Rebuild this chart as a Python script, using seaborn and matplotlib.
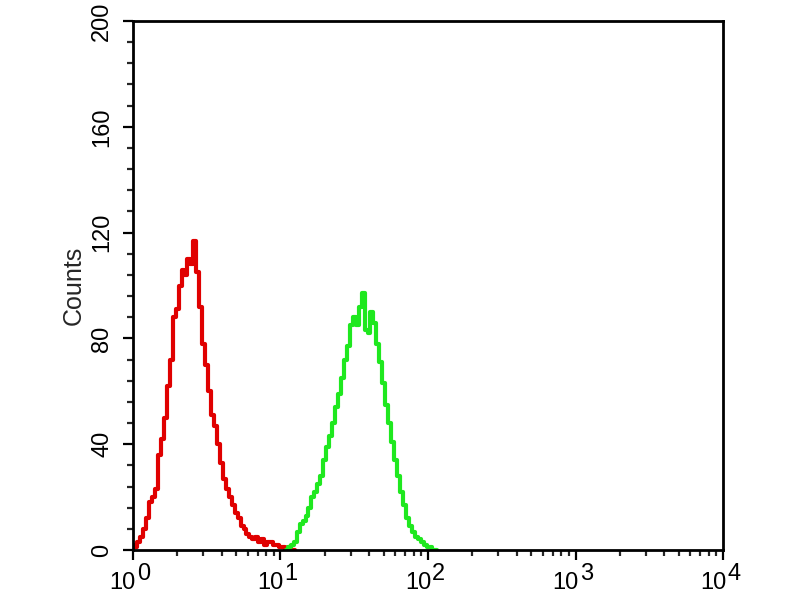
import numpy as np
import pandas as pd
import matplotlib
matplotlib.use("Agg")
import matplotlib.pyplot as plt
from matplotlib.ticker import MultipleLocator, LogLocator, NullFormatter, FixedLocator
from matplotlib.transforms import ScaledTranslation
import seaborn as sns

# ---- data ----
# positions in decades (log10 of intensity)
red_log = [0.00, 0.02, 0.04, 0.06, 0.08, 0.10, 0.12, 0.14, 0.16, 0.18,
           0.20, 0.22, 0.24, 0.26, 0.28, 0.30, 0.32, 0.34, 0.36, 0.38,
           0.40, 0.42, 0.44, 0.46, 0.48, 0.50, 0.52, 0.54, 0.56, 0.58,
           0.60, 0.62, 0.64, 0.66, 0.68, 0.70, 0.72, 0.74, 0.76, 0.78,
           0.80, 0.82, 0.84, 0.86, 0.88, 0.90, 0.92, 0.94, 0.96, 0.98,
           1.00, 1.02, 1.04, 1.06, 1.08, 1.10]
red_counts = [2, 1, 3, 5, 8, 12, 18, 20, 23, 36,
              42, 50, 62, 72, 88, 91, 100, 106, 104, 110,
              108, 117, 105, 92, 78, 70, 60, 51, 47, 40,
              33, 27, 23, 20, 17, 14, 12, 9, 8, 6,
              5, 4, 5, 3, 4, 2, 3, 3, 2, 2,
              1, 1, 0, 1, 0, 0]

green_log = [1.04, 1.06, 1.08, 1.10, 1.12, 1.14, 1.16, 1.18, 1.20, 1.22,
             1.24, 1.26, 1.28, 1.30, 1.32, 1.34, 1.36, 1.38, 1.40, 1.42,
             1.44, 1.46, 1.48, 1.50, 1.52, 1.54, 1.56, 1.58, 1.60, 1.62,
             1.64, 1.66, 1.68, 1.70, 1.72, 1.74, 1.76, 1.78, 1.80, 1.82,
             1.84, 1.86, 1.88, 1.90, 1.92, 1.94, 1.96, 1.98, 2.00, 2.02,
             2.04, 2.06]
green_counts = [0, 1, 2, 3, 7, 10, 11, 13, 16, 20,
                22, 25, 28, 34, 39, 43, 48, 54, 59, 65,
                72, 77, 85, 88, 85, 92, 97, 83, 82, 90,
                86, 78, 71, 63, 55, 48, 41, 34, 28, 22,
                17, 12, 9, 7, 5, 4, 3, 2, 1, 1,
                0, 0]

y_ticks = [0, 40, 80, 120, 160, 200]
x_decades = [0, 1, 2, 3, 4]
y_label = "Counts"

# ---- figure ----
sns.set_style("ticks")
plt.rcParams['font.family'] = ['Liberation Sans', 'DejaVu Sans']

fig = plt.figure(figsize=(8, 6), dpi=100)
ax = fig.add_axes([0.166, 0.0833, 0.738, 0.8817])

df = pd.concat([
    pd.DataFrame({"x": 10 ** np.array(red_log), "y": red_counts, "s": "red"}),
    pd.DataFrame({"x": 10 ** np.array(green_log), "y": green_counts, "s": "green"}),
])
sns.lineplot(data=df, x="x", y="y", hue="s",
             palette={"red": "#e00000", "green": "#1fe81f"},
             drawstyle="steps-mid", linewidth=3.0, legend=False, ax=ax,
             estimator=None, sort=False)

ax.set_xscale("log")
ax.set_xlim(1, 1e4)
ax.set_ylim(0, 200)

ax.yaxis.set_major_locator(FixedLocator(y_ticks))
ax.yaxis.set_minor_locator(MultipleLocator(8))
ax.set_yticklabels([str(v) for v in y_ticks], rotation=90, va="center")

ax.xaxis.set_major_locator(FixedLocator([10 ** d for d in x_decades]))
ax.xaxis.set_minor_locator(LogLocator(base=10, subs=np.arange(2, 10)))
ax.xaxis.set_minor_formatter(NullFormatter())
ax.set_xticklabels(["10"] * len(x_decades), ha="right")

for sp in ax.spines.values():
    sp.set_linewidth(2.0)
    sp.set_color("black")

ax.tick_params(axis="both", which="major", direction="out", length=7, width=1.6,
               labelsize=17, colors="black")
ax.tick_params(axis="both", which="minor", direction="out", length=4, width=1.6)
ax.tick_params(axis="x", which="major", pad=9)
ax.tick_params(axis="y", which="major", pad=7)

# shift the decade base labels a little to the right of their tick
shift = ScaledTranslation(3 / 100, 0, fig.dpi_scale_trans)
for lab in ax.get_xticklabels():
    lab.set_transform(lab.get_transform() + shift)

# superscript exponents of decade labels
for d in x_decades:
    ax.annotate(str(d), xy=(10 ** d, 0), xycoords=("data", "axes fraction"),
                xytext=(4, -30), textcoords="offset pixels",
                ha="left", va="baseline", fontsize=17, color="black",
                annotation_clip=False)

ax.set_xlabel("")
ax.set_ylabel(y_label, fontsize=18, labelpad=4)

fig.savefig("out.png", dpi=100, facecolor="white")
